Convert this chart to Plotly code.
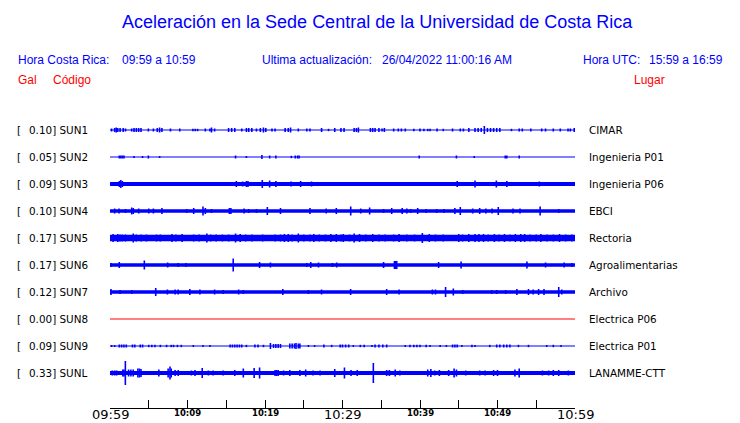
import plotly.graph_objects as go

# ---------------- data ----------------
stations = ["SUN1", "SUN2", "SUN3", "SUN4", "SUN5", "SUN6", "SUN7", "SUN8", "SUN9", "SUNL"]
gal = ["0.10", "0.05", "0.09", "0.10", "0.17", "0.17", "0.12", "0.00", "0.09", "0.33"]
places = ["CIMAR", "Ingenieria P01", "Ingenieria P06", "EBCI", "Rectoria",
          "Agroalimentarias", "Archivo", "Electrica P06", "Electrica P01", "LANAMME-CTT"]
tick_minutes = [0, 5, 10, 15, 20, 25, 30, 35, 40, 45, 50, 55, 60]
tick_labels = ["09:59", "", "10:09", "", "10:19", "", "10:29", "", "10:39", "", "10:49", "", "10:59"]

# bursts: minutes after 09:59, half amplitude (px-equivalent units)
SUN1_T = [0.2, 0.6, 0.8, 1.0, 1.3, 1.7, 2.0, 2.8, 3.1, 3.4, 3.7, 4.0, 4.95, 5.6, 6.1, 6.4, 6.7, 7.8, 9.0,
          10.7, 11.0, 11.3, 12.3, 12.9, 13.1, 13.5, 15.3, 15.7, 16.1, 17.0, 17.6, 17.9, 18.3, 18.9, 19.4,
          19.8, 20.1, 20.9, 21.3, 22.6, 23.0, 23.3, 24.3, 25.4, 25.8, 27.3, 28.2, 29.0, 29.8, 30.2, 31.5,
          31.8, 32.05, 33.6, 33.9, 34.2, 34.7, 35.1, 35.4, 36.6, 37.2, 37.6, 38.1, 39.2, 40.0, 40.5, 41.0,
          41.3, 42.2, 43.0, 44.2, 45.2, 45.6, 46.3, 47.1, 47.5, 47.9, 48.3, 48.7, 49.1, 49.5, 49.9, 50.3,
          51.8, 52.8, 53.2, 54.3, 55.7, 56.2, 57.2, 58.1, 59.1, 59.4, 59.9]
SUN1_A = [1.5, 2, 2.5, 2, 2, 2, 1.5, 1.5, 2, 2, 2, 2, 1.5, 1.5, 2, 2.5, 2, 1.5, 1.5,
          1.2, 1.2, 1.2, 1.5, 1.5, 2.5, 1.5, 2, 2, 2, 1.5, 2, 2, 2, 1.5, 2,
          2.5, 2, 1.5, 1.5, 2, 2, 2.5, 1.5, 1.5, 1.5, 2, 1.2, 2, 2, 2, 2,
          2, 2.5, 2, 2, 2, 2, 1.5, 2, 1.5, 1.5, 1.5, 1.5, 1.2, 1.5, 1.2, 1.2,
          1.2, 1.5, 1.2, 1.5, 1.5, 1.5, 2, 2, 2, 2, 4, 2, 2, 2, 2, 2,
          1.2, 1.5, 1.5, 1.5, 1.5, 1.5, 1.5, 1.5, 1.5, 1.5, 2]

SUN2_T = [1.2, 1.4, 1.6, 1.8, 3.1, 4.2, 4.95, 6.4, 16.2, 17.6, 19.6, 20.6, 21.4, 23.4, 23.9, 24.2, 24.4,
          39.9, 44.7, 47.0, 51.0, 51.2, 52.8]
SUN2_A = [1.5, 1.5, 1.5, 1.5, 1, 1, 1.5, 1, 1.5, 1, 2, 1.5, 1.5, 1.2, 1.5, 1.5, 1.5,
          1.5, 1.5, 1, 1.5, 1.5, 1.5]

SUN3_T = [1.2, 1.4, 1.6, 16.3, 17.1, 17.6, 17.8, 19.65, 20.6, 21.4, 23.35, 24.6, 26.0,
          44.8, 47.1, 49.85, 51.2, 55.4]
SUN3_A = [3, 4, 3, 3, 2.5, 3, 3, 4, 3.5, 3, 2.5, 3, 2.5,
          3, 3.5, 3.5, 3, 2.5]

SUN4_T = [0.6, 1.16, 2.0, 2.8, 3.0, 3.7, 5.0, 5.6, 6.7, 9.9, 10.8, 12.0, 12.3, 13.1, 15.4, 15.6, 17.3,
          17.9, 18.9, 20.3, 22.0, 25.8, 27.9, 29.2, 31.06, 32.35, 33.5, 35.3, 36.35, 37.7, 38.3, 38.8,
          39.7, 40.8, 42.15, 43.1, 44.5, 45.2, 46.8, 47.7, 48.5, 49.3, 50.1, 52.0, 52.9, 55.5, 57.9]
SUN4_A = [2.5, 2.5, 2, 3.5, 3, 2.5, 2.5, 2.5, 3, 2, 3, 4.5, 3, 2, 3, 3, 2.5,
          2, 2, 4, 3, 3, 2.5, 3, 4.5, 2.5, 3.5, 2, 3, 3, 2.5, 2,
          3, 2, 2, 2, 3, 4, 2.5, 3, 2.5, 2.5, 4, 2.5, 2.5, 4.5, 2]

SUN5_T = [0.4, 1.0, 1.3, 1.6, 2.0, 2.4, 3.0, 3.4, 4.0, 4.7, 5.4, 6.0, 6.5, 7.2, 8.0, 8.5, 9.3, 10.0,
          10.8, 11.5, 12.5, 13.0, 13.7, 14.5, 15.3, 16.2, 16.8, 17.5, 18.3, 19.0, 19.7, 20.5, 21.3, 22.0,
          22.5, 23.0, 23.5, 24.3, 25.0, 25.8, 26.3, 27.0, 27.8, 28.5, 29.2, 29.8, 30.1, 30.9, 31.5, 32.2,
          33.0, 33.9, 34.7, 35.5, 36.6, 37.3, 38.3, 39.3, 40.3, 41.2, 42.0, 43.0, 44.0, 45.0, 45.5, 46.3,
          47.1, 47.6, 48.2, 48.8, 49.6, 50.2, 50.9, 51.6, 52.3, 53.0, 53.5, 54.2, 55.0, 55.6, 56.4, 57.2,
          58.0, 58.8, 59.6]
SUN5_A = [4, 4, 3.5, 3.5, 3.5, 3, 4.5, 3.5, 3.5, 3.5, 3, 3.5, 3.5, 3, 4, 3.5, 4, 3,
          3.5, 3.5, 4.5, 3.5, 3.5, 3.5, 3.5, 4.5, 4, 3.5, 3.5, 3, 3.5, 3, 3.5, 3.5,
          4, 4, 3.5, 4.5, 3.5, 3.5, 4, 3.5, 3.5, 4, 4, 3.5, 4, 3.5, 4.5, 4,
          3.5, 4, 3.5, 3.5, 3.5, 4, 3.5, 3.5, 5, 4, 3.5, 3.5, 3, 4, 3.5, 4,
          4, 4, 4, 3.5, 4, 3.5, 4, 3.5, 4, 4, 4, 3.5, 3.5, 4, 3.5, 3.5,
          4, 3.5, 3.5]

SUN6_T = [0.13, 1.2, 4.43, 7.44, 8.8, 9.8, 15.9, 19.3, 20.7, 25.4, 25.9, 26.9, 28.7, 29.25,
          35.3, 36.7, 36.85, 37.0, 42.4, 45.3, 53.8, 56.2, 58.6, 59.6]
SUN6_A = [2, 3, 4.5, 2.5, 2, 2, 6.5, 3, 2.5, 2, 3, 2.5, 2, 2.5,
          3, 4, 4, 4, 3, 3.5, 3.5, 2.5, 2.5, 2]

SUN7_T = [0.13, 1.3, 2.8, 5.9, 7.4, 8.4, 8.8, 10.3, 11.6, 13.5, 14.6, 16.6, 17.2, 22.3, 25.6, 27.3,
          31.05, 35.7, 37.3, 41.6, 42.0, 43.3, 44.3, 45.5, 49.25, 49.9, 51.05, 52.5, 54.0, 54.6, 55.3,
          56.0, 57.9, 58.3]
SUN7_A = [3, 2, 2, 4, 2.5, 2.5, 2.5, 3, 2.5, 2.5, 2, 2.5, 2, 3, 2, 2.5,
          3, 3, 2.5, 2.5, 2.5, 5, 3.5, 2, 2, 2, 2, 3, 3, 2.5, 3,
          3, 5, 2.5]

SUN8_T = []
SUN8_A = []

SUN9_T = [0.2, 0.6, 1.2, 1.5, 1.8, 2.1, 2.9, 3.2, 3.9, 4.2, 5.0, 5.4, 5.8, 6.5, 7.3, 7.9, 8.2, 8.7, 9.2,
          10.75, 12.0, 12.9, 15.5, 15.8, 16.1, 16.4, 16.7, 17.0, 17.6, 18.7, 19.1, 19.8, 20.7, 21.1,
          21.4, 21.7, 22.0, 23.2, 23.5, 23.8, 24.0, 24.3, 24.5, 25.6, 26.4, 27.6, 28.6, 29.7, 30.0,
          30.4, 30.8, 31.4, 32.3, 32.8, 33.8, 34.2, 34.7, 35.2, 35.7, 38.1, 38.7, 39.2, 39.6, 40.0,
          40.8, 41.3, 42.6, 43.4, 44.2, 44.5, 44.8, 45.4, 46.7, 47.1, 49.0, 49.9, 50.3, 50.8, 51.2,
          51.6, 52.7, 54.0, 56.35, 57.2, 58.2]
SUN9_A = [1, 1, 1.5, 1.5, 1.5, 1.5, 1.5, 1.5, 1.5, 1.5, 1.2, 1.2, 1.2, 1.2, 1.2, 1.2, 1.2, 1.2, 1.2,
          1, 1, 1, 1.5, 1.5, 1.5, 1.5, 1.5, 1.5, 1.2, 1.5, 1.5, 1.2, 3, 2,
          2, 2, 2, 2.5, 2.5, 2.5, 3, 2.5, 2.5, 1, 1, 1.5, 1.2, 1.5, 1.5,
          1.5, 1.5, 1, 1.2, 1.2, 1, 1.5, 1.5, 1.5, 1.5, 1, 1.2, 1.2, 1.2, 1.2,
          1.2, 1, 1, 1, 1.5, 1.5, 1.5, 1, 1.2, 1, 1.2, 1.5, 1.5, 1.5, 1.5,
          1.5, 1.2, 1.2, 1, 1.2, 1]

SUNL_T = [0.3, 0.6, 0.86, 1.65, 1.8, 1.98, 2.4, 2.7, 3.0, 3.6, 3.8, 4.0, 6.3, 7.5, 7.74, 7.9, 8.4, 8.8,
          10.5, 10.97, 11.9, 12.7, 13.3, 14.6, 16.1, 17.2, 18.6, 19.3, 21.3, 21.5, 21.7, 22.4, 23.2,
          24.5, 25.25, 26.2, 27.1, 29.0, 30.25, 31.1, 31.9, 33.98, 35.7, 36.05, 36.8, 37.4, 41.0, 41.4,
          41.9, 42.5, 43.7, 44.4, 44.7, 45.9, 47.7, 48.4, 49.5, 50.0, 52.25, 52.8, 55.8, 56.6, 57.2,
          57.9, 59.15]
SUNL_A = [2.5, 2.5, 2.5, 3.5, 3.5, 12, 3.5, 3.5, 3.5, 4.5, 4.5, 4, 3.5, 4.5, 6.5, 4.5, 3, 3,
          2.5, 3, 5, 2.5, 2.5, 2.5, 3, 4.5, 5, 5.5, 3, 3, 3, 2.5, 3,
          3, 3.5, 2.5, 2.5, 4, 5.5, 3, 3, 10, 3, 3, 3.5, 2.5, 3.5, 4,
          2.5, 3, 3, 4.5, 3.5, 2.5, 2.5, 2.5, 3, 3, 3.5, 4.5, 2.5, 2.5, 3,
          3, 2.5]

bursts_t = [SUN1_T, SUN2_T, SUN3_T, SUN4_T, SUN5_T, SUN6_T, SUN7_T, SUN8_T, SUN9_T, SUNL_T]
bursts_a = [SUN1_A, SUN2_A, SUN3_A, SUN4_A, SUN5_A, SUN6_A, SUN7_A, SUN8_A, SUN9_A, SUNL_A]

# ---------------- styles / layout ----------------
BLUE = "#0000FF"
RED = "#FF0000"
base_width = [1.2, 1, 4, 3.5, 6.5, 3.5, 3.5, 1, 1.2, 4]
trace_color = [BLUE] * 7 + [RED] + [BLUE] * 2

W, H = 740, 423
PL, PR, PT, PB = 110, 575, 100, 408   # plot area in pixels
ROW0, STEP = 130, 27                  # first row centre / row spacing (px)
y_top = (ROW0 - PT) / STEP
y_bot = y_top - (PB - PT) / STEP


def xp(px):
    return (px - PL) / (PR - PL)


def yp(py):
    return (PB - py) / (PB - PT)


fig = go.Figure()
for i, st in enumerate(stations):
    yc = -i
    fig.add_trace(go.Scatter(x=[tick_minutes[0], tick_minutes[-1]], y=[yc, yc], mode="lines",
                             line=dict(color=trace_color[i], width=base_width[i]),
                             hoverinfo="skip", showlegend=False))
    xs, ys = [], []
    for t, a in zip(bursts_t[i], bursts_a[i]):
        xs += [t, t, None]
        ys += [yc - a / STEP, yc + a / STEP, None]
    if xs:
        fig.add_trace(go.Scatter(x=xs, y=ys, mode="lines",
                                 line=dict(color=trace_color[i], width=1.6),
                                 hoverinfo="skip", showlegend=False))

ann = []
LAB_FONT = dict(family="DejaVu Sans", size=10.4, color="black")
for i, st in enumerate(stations):
    py = ROW0 + i * STEP
    ann.append(dict(x=xp(15), y=yp(py), xref="paper", yref="paper", text="[",
                    xanchor="left", yanchor="middle", showarrow=False, font=LAB_FONT))
    ann.append(dict(x=xp(27), y=yp(py), xref="paper", yref="paper", text=f"{gal[i]}] {st}",
                    xanchor="left", yanchor="middle", showarrow=False, font=LAB_FONT))
    ann.append(dict(x=xp(587), y=yp(py), xref="paper", yref="paper", text=places[i],
                    xanchor="left", yanchor="middle", showarrow=False, font=LAB_FONT))

for t, lab in zip(tick_minutes, tick_labels):
    if not lab:
        continue
    big = lab in ("09:59", "10:29", "10:59")
    ann.append(dict(x=t, y=0, xref="x", yref="paper", text=lab if big else f"<b>{lab}</b>",
                    xanchor="center", yanchor="top", yshift=3 if big else 2, showarrow=False,
                    font=dict(family="DejaVu Sans", size=13 if big else 8.5, color="black")))

HF = dict(family="Liberation Sans", size=12, color=BLUE)
RF = dict(family="Liberation Sans", size=12, color=RED)
header = [
    (377, 22, "Aceleración en la Sede Central de la Universidad de Costa Rica", "center",
     dict(family="Liberation Sans", size=18, color=BLUE)),
    (16, 60, "Hora Costa Rica:", "left", HF),
    (120, 60, "09:59 a 10:59", "left", HF),
    (260, 60, "Ultima actualización:", "left", HF),
    (380, 60, "26/04/2022 11:00:16 AM", "left", HF),
    (581, 60, "Hora UTC:", "left", HF),
    (725, 60, "15:59 a 16:59", "right", HF),
    (16, 80, "Gal", "left", RF),
    (51, 80, "Código", "left", RF),
    (632, 80, "Lugar", "left", RF),
]
for px, py, txt, anc, fnt in header:
    ann.append(dict(x=xp(px), y=yp(py), xref="paper", yref="paper", text=txt, xanchor=anc,
                    yanchor="middle", showarrow=False, font=fnt))

fig.update_layout(
    width=W, height=H,
    margin=dict(l=PL, r=W - PR, t=PT, b=H - PB, pad=0),
    paper_bgcolor="white", plot_bgcolor="white",
    xaxis=dict(range=[tick_minutes[0], tick_minutes[-1]], showgrid=False, zeroline=False,
               showline=True, linecolor="black", linewidth=1, ticks="inside", ticklen=8,
               tickcolor="black", tickwidth=1, tickvals=tick_minutes, showticklabels=False,
               fixedrange=True),
    yaxis=dict(range=[y_bot, y_top], visible=False, fixedrange=True),
    annotations=ann,
    showlegend=False,
)

fig.write_html("out.html", config={"displayModeBar": False},
               post_script="document.body.style.margin='0px';document.body.style.overflow='hidden';")
